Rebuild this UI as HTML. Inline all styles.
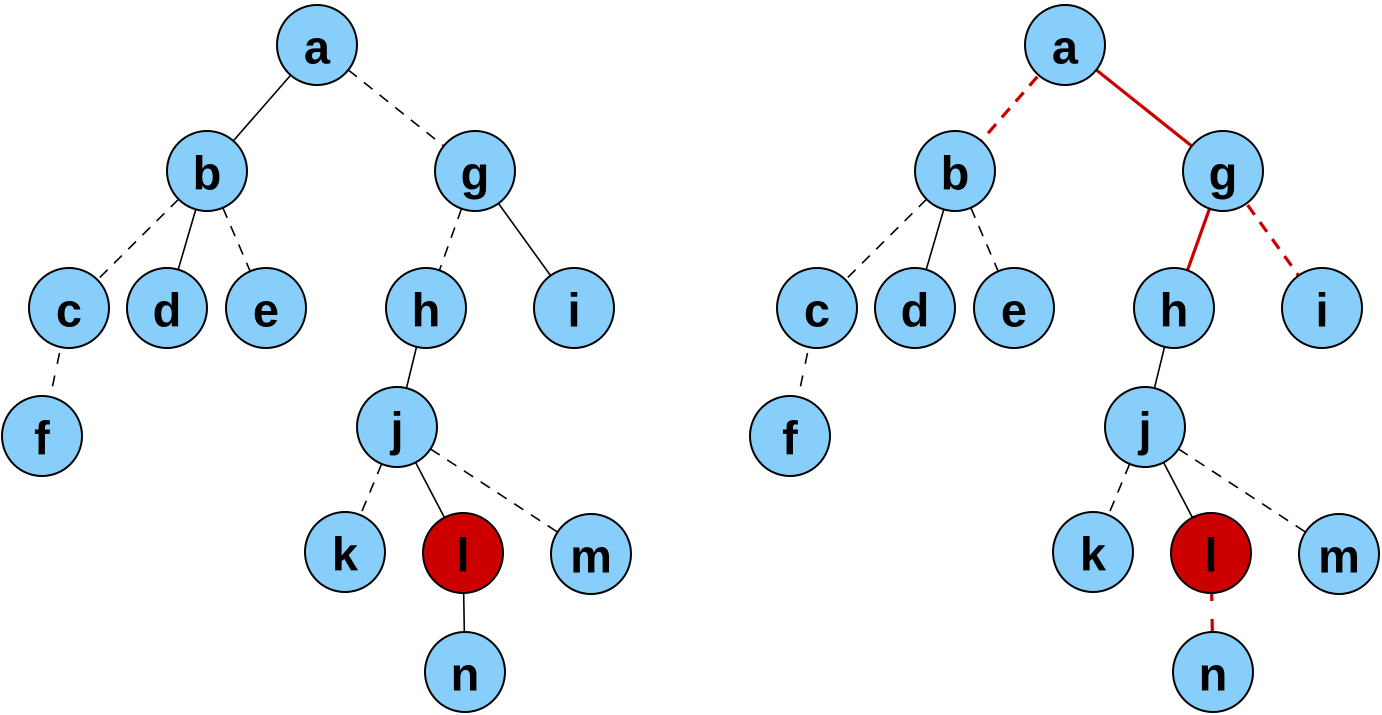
<!DOCTYPE html>
<html><head><meta charset="utf-8"><style>
html,body{margin:0;padding:0;background:#fff}
svg{display:block}
text{font-family:"Liberation Sans",Arial,sans-serif;font-weight:bold;font-size:47px;text-anchor:middle;dominant-baseline:central}
</style></head><body>
<svg width="1382" height="715" viewBox="0 0 1382 715">
<g stroke="#000" stroke-width="1.6" fill="none">
<line x1="317" y1="45" x2="207" y2="171"/>
<line x1="317" y1="45" x2="475" y2="171" stroke-dasharray="11,9"/>
<line x1="207" y1="171" x2="69" y2="308" stroke-dasharray="11,9"/>
<line x1="207" y1="171" x2="167" y2="308"/>
<line x1="207" y1="171" x2="266" y2="308" stroke-dasharray="11,9"/>
<line x1="69" y1="308" x2="42" y2="436" stroke-dasharray="11,12"/>
<line x1="475" y1="171" x2="426" y2="308" stroke-dasharray="11,9"/>
<line x1="475" y1="171" x2="574" y2="308"/>
<line x1="426" y1="308" x2="397" y2="427"/>
<line x1="397" y1="427" x2="345" y2="552" stroke-dasharray="11,9"/>
<line x1="397" y1="427" x2="463" y2="553"/>
<line x1="397" y1="427" x2="591" y2="554" stroke-dasharray="11,9"/>
<line x1="463" y1="553" x2="465" y2="672"/>
</g>
<g stroke="#000" stroke-width="1.6" fill="none" transform="translate(748,0)">
<line x1="317" y1="45" x2="207" y2="171" stroke="#cc0000" stroke-width="3.2" stroke-dasharray="12,9"/>
<line x1="317" y1="45" x2="475" y2="171" stroke="#cc0000" stroke-width="3.2"/>
<line x1="207" y1="171" x2="69" y2="308" stroke-dasharray="11,9"/>
<line x1="207" y1="171" x2="167" y2="308"/>
<line x1="207" y1="171" x2="266" y2="308" stroke-dasharray="11,9"/>
<line x1="69" y1="308" x2="42" y2="436" stroke-dasharray="11,12"/>
<line x1="475" y1="171" x2="426" y2="308" stroke="#cc0000" stroke-width="3.2"/>
<line x1="475" y1="171" x2="574" y2="308" stroke="#cc0000" stroke-width="3.2" stroke-dasharray="12,9"/>
<line x1="426" y1="308" x2="397" y2="427"/>
<line x1="397" y1="427" x2="345" y2="552" stroke-dasharray="11,9"/>
<line x1="397" y1="427" x2="463" y2="553"/>
<line x1="397" y1="427" x2="591" y2="554" stroke-dasharray="11,9"/>
<line x1="463" y1="553" x2="465" y2="672" stroke="#cc0000" stroke-width="3.2" stroke-dasharray="14,18" stroke-dashoffset="-2"/>
</g>
<g stroke="#000" stroke-width="2" fill="#87cefa">
<circle cx="317" cy="45" r="40"/><circle cx="207" cy="171" r="40"/><circle cx="475" cy="171" r="40"/>
<circle cx="69" cy="308" r="40"/><circle cx="167" cy="308" r="40"/><circle cx="266" cy="308" r="40"/>
<circle cx="426" cy="308" r="40"/><circle cx="574" cy="308" r="40"/><circle cx="42" cy="436" r="40"/>
<circle cx="397" cy="427" r="40"/><circle cx="345" cy="552" r="40"/><circle cx="463" cy="553" r="40" fill="#cc0000"/>
<circle cx="591" cy="554" r="40"/><circle cx="465" cy="672" r="40"/>
<g transform="translate(748,0)">
<circle cx="317" cy="45" r="40"/><circle cx="207" cy="171" r="40"/><circle cx="475" cy="171" r="40"/>
<circle cx="69" cy="308" r="40"/><circle cx="167" cy="308" r="40"/><circle cx="266" cy="308" r="40"/>
<circle cx="426" cy="308" r="40"/><circle cx="574" cy="308" r="40"/><circle cx="42" cy="436" r="40"/>
<circle cx="397" cy="427" r="40"/><circle cx="345" cy="552" r="40"/><circle cx="463" cy="553" r="40" fill="#cc0000"/>
<circle cx="591" cy="554" r="40"/><circle cx="465" cy="672" r="40"/>
</g>
</g>
<g fill="#000" transform="translate(0,2)">
<text x="317" y="45">a</text><text x="207" y="171">b</text><text x="475" y="171">g</text>
<text x="69" y="308">c</text><text x="167" y="308">d</text><text x="266" y="308">e</text>
<text x="426" y="308">h</text><text x="574" y="308">i</text><text x="42" y="436">f</text>
<text x="397" y="427">j</text><text x="345" y="552">k</text><text x="463" y="553">l</text>
<text x="591" y="554">m</text><text x="465" y="672">n</text>
<g transform="translate(748,0)">
<text x="317" y="45">a</text><text x="207" y="171">b</text><text x="475" y="171">g</text>
<text x="69" y="308">c</text><text x="167" y="308">d</text><text x="266" y="308">e</text>
<text x="426" y="308">h</text><text x="574" y="308">i</text><text x="42" y="436">f</text>
<text x="397" y="427">j</text><text x="345" y="552">k</text><text x="463" y="553">l</text>
<text x="591" y="554">m</text><text x="465" y="672">n</text>
</g>
</g>
</svg>
</body></html>
